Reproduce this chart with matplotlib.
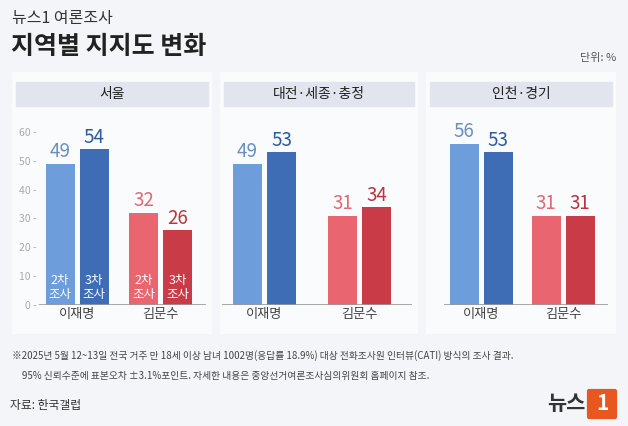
import matplotlib.pyplot as plt
from matplotlib import font_manager
from matplotlib.patches import Rectangle, FancyBboxPatch

names = sorted({f.name for f in font_manager.fontManager.ttflist if "CJK" in f.name})
cjk = names[0] if names else "Noto Sans CJK SC"
for n in names:
    if n.endswith("KR"):
        cjk = n
plt.rcParams['font.family'] = [cjk, "DejaVu Sans"]

REGIONS = ["서울", "대전·세종·충정", "인천·경기"]
CANDIDATES = ["이재명", "김문수"]
ROUND2 = [[49, 32], [49, 31], [56, 31]]
ROUND3 = [[54, 26], [53, 34], [53, 31]]

W, H = 628, 426
BAR_COLORS = [["#6d9edb", "#3e6db6"], ["#e9656f", "#c93c47"]]
TXT_COLORS = [["#6a8fc0", "#2e5b9c"], ["#e06a73", "#b8343f"]]

# panel px layout: (panel left, panel right, first group center, group spacing)
PANELS = [(12, 212, 77, 83.5), (220, 418, 264.5, 95), (426, 616, 481, 82)]

fig = plt.figure(figsize=(W / 100, H / 100), dpi=100)
fig.patch.set_facecolor("#f4f5f9")


def px(x, y, w, h):
    return [x / W, 1 - (y + h) / H, w / W, h / H]


fig.text(12 / W, 1 - 18 / H, "뉴스1 여론조사", fontsize=11.5, color="#333", va="center")
fig.text(11 / W, 1 - 47 / H, "지역별 지지도 변화", fontsize=18, fontweight="bold",
         color="#222", va="center")
fig.text(616 / W, 1 - 58 / H, "단위: %", fontsize=8, color="#555", ha="right", va="center")

y0, y60 = 305, 132
unit = (y0 - y60) / 60.0
ymax = 65

for i, (pl, pr, c0, sp) in enumerate(PANELS):
    bg = fig.add_axes(px(pl, 72, pr - pl, 262))
    bg.set_facecolor("#fafbfd")
    bg.set_xticks([]); bg.set_yticks([])
    for s in bg.spines.values():
        s.set_visible(False)
    bg.add_patch(Rectangle((0.02, 0.87), 0.96, 0.09, transform=bg.transAxes,
                           color="#e2e4ee"))
    bg.text(0.5, 0.915, REGIONS[i], transform=bg.transAxes, ha="center",
            va="center", fontsize=10, color="#222")

    left = c0 - 0.45 * sp
    width = 2.0 * sp
    top = y0 - ymax * unit
    ax = fig.add_axes(px(left, top, width, y0 - top))
    ax.patch.set_alpha(0)
    ax.set_xlim(-0.45, 1.55)
    ax.set_ylim(0, ymax)
    bw = 29 / sp
    off = 17 / sp
    for g in range(2):
        vals = [ROUND2[i][g], ROUND3[i][g]]
        for k in range(2):
            x = g + (k * 2 - 1) * off
            ax.bar(x, vals[k], width=bw, color=BAR_COLORS[g][k])
            ax.text(x, vals[k] + 0.5, str(vals[k]), ha="center", va="bottom",
                    fontsize=13.5, color=TXT_COLORS[g][k])
            if i == 0:
                ax.text(x, 1.5, f"{k + 2}차\n조사", ha="center", va="bottom",
                        fontsize=9, color="white", linespacing=1.05)
    ax.axhline(0, color="#999", lw=1.2)
    ax.set_xticks([0, 1])
    ax.set_xticklabels(CANDIDATES, fontsize=9.5, color="#444")
    ax.tick_params(axis="x", length=0, pad=2)
    for s in ax.spines.values():
        s.set_visible(False)
    if i == 0:
        ax.set_yticks(range(0, 61, 10))
        ax.set_yticklabels([f"{v} -" for v in range(0, 61, 10)], fontsize=7.5,
                           color="#aaa")
        ax.tick_params(axis="y", length=0, pad=2)
    else:
        ax.set_yticks([])

fig.text(12 / W, 1 - 356 / H,
         "※2025년 5월 12~13일 전국 거주 만 18세 이상 남녀 1002명(응답률 18.9%) 대상 전화조사원 인터뷰(CATI) 방식의 조사 결과.",
         fontsize=7, color="#444", va="center")
fig.text(22 / W, 1 - 376 / H,
         "95% 신뢰수준에 표본오차 ±3.1%포인트. 자세한 내용은 중앙선거여론조사심의위원회 홈페이지 참조.",
         fontsize=7, color="#444", va="center")
fig.text(10 / W, 1 - 405 / H, "자료: 한국갤럽", fontsize=8.5, color="#333", va="center")
fig.text(585 / W, 1 - 403 / H, "뉴스", fontsize=15, fontweight="bold", color="#333",
         ha="right", va="center")
lg = fig.add_axes(px(586, 388, 32, 32))
lg.axis("off")
lg.add_patch(FancyBboxPatch((0.1, 0.1), 0.8, 0.8, boxstyle="round,pad=0.05",
                            color="#e8571f", transform=lg.transAxes))
lg.text(0.5, 0.5, "1", color="white", fontsize=15, fontweight="bold",
        ha="center", va="center", transform=lg.transAxes)

fig.savefig("out.png", dpi=100, facecolor=fig.get_facecolor())
